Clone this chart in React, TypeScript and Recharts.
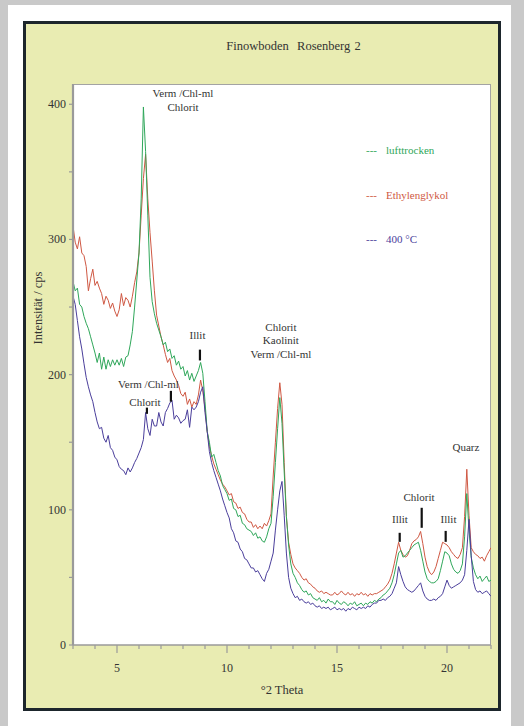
import React from 'react';
import { LineChart, Line, XAxis, YAxis, Legend, ReferenceLine, ReferenceDot } from 'recharts';

// °2 Theta positions
const theta = [
  3.0, 3.1, 3.2, 3.3, 3.4, 3.5, 3.6, 3.7, 3.8, 3.9,
  4.0, 4.1, 4.2, 4.3, 4.4, 4.5, 4.6, 4.7, 4.8, 4.9,
  5.0, 5.1, 5.2, 5.3, 5.4, 5.5, 5.6, 5.7, 5.8, 5.9,
  6.0, 6.1, 6.2, 6.3, 6.4, 6.5, 6.6, 6.7, 6.8, 6.9,
  7.0, 7.1, 7.2, 7.3, 7.4, 7.5, 7.6, 7.7, 7.8, 7.9,
  8.0, 8.1, 8.2, 8.3, 8.4, 8.5, 8.6, 8.7, 8.8, 8.9,
  9.0, 9.1, 9.2, 9.3, 9.4, 9.5, 9.6, 9.7, 9.8, 9.9,
  10.0, 10.1, 10.2, 10.3, 10.4, 10.5, 10.6, 10.7, 10.8, 10.9,
  11.0, 11.1, 11.2, 11.3, 11.4, 11.5, 11.6, 11.7, 11.8, 11.9,
  12.0, 12.1, 12.2, 12.3, 12.4, 12.5, 12.6, 12.7, 12.8, 12.9,
  13.0, 13.1, 13.2, 13.3, 13.4, 13.5, 13.6, 13.7, 13.8, 13.9,
  14.0, 14.1, 14.2, 14.3, 14.4, 14.5, 14.6, 14.7, 14.8, 14.9,
  15.0, 15.1, 15.2, 15.3, 15.4, 15.5, 15.6, 15.7, 15.8, 15.9,
  16.0, 16.1, 16.2, 16.3, 16.4, 16.5, 16.6, 16.7, 16.8, 16.9,
  17.0, 17.1, 17.2, 17.3, 17.4, 17.5, 17.6, 17.7, 17.8, 17.9,
  18.0, 18.1, 18.2, 18.3, 18.4, 18.5, 18.6, 18.7, 18.8, 18.9,
  19.0, 19.1, 19.2, 19.3, 19.4, 19.5, 19.6, 19.7, 19.8, 19.9,
  20.0, 20.1, 20.2, 20.3, 20.4, 20.5, 20.6, 20.7, 20.8, 20.9,
  21.0, 21.1, 21.2, 21.3, 21.4, 21.5, 21.6, 21.7, 21.8, 21.9,
  22.0,
];

// Intensität / cps
const lufttrocken = [
  269, 262, 264, 252, 250, 243, 238, 234, 228, 222,
  216, 209, 216, 204, 213, 204, 211, 206, 211, 207,
  211, 207, 212, 206, 213, 214, 222, 232, 250, 270,
  290, 330, 398, 365, 318, 272, 254, 245, 238, 233,
  228, 222, 224, 217, 219, 212, 214, 207, 210, 204,
  206, 199, 203, 196, 201, 195, 199, 203, 209, 201,
  180, 158, 150, 139, 141, 135, 129, 125, 118, 115,
  112, 107, 108, 101, 100, 95, 96, 90, 89, 86,
  85, 84, 81, 83, 79, 80, 77, 76, 80, 86,
  90, 110, 135, 160, 183, 164, 128, 95, 74, 60,
  53, 50, 46, 44, 41, 39, 40, 37, 38, 35,
  34, 33, 35, 32, 33, 31, 34, 32, 32, 30,
  33, 31, 30, 32, 31, 29, 31, 30, 32, 29,
  30, 31, 29, 31, 30, 32, 31, 33, 32, 34,
  35, 37, 38, 40, 42, 46, 52, 60, 68, 70,
  65, 66, 68, 70, 72, 74, 75, 76, 70, 62,
  54, 49, 47, 46, 46, 47, 49, 55, 62, 69,
  68, 66, 60, 56, 54, 53, 55, 60, 80, 112,
  85, 65, 57, 52, 49, 51, 47, 49, 51, 47,
  48,
];

const ethylenglykol = [
  310, 298, 293, 302, 290, 288, 280, 262, 271, 278,
  266, 269, 264, 260, 252, 258, 255, 249, 253, 247,
  243, 248, 260, 251, 257, 255, 250, 258, 268, 276,
  290, 318, 345, 363, 330, 305, 284, 262, 244, 236,
  228, 222, 215, 209, 212, 203, 199, 196, 192, 186,
  184, 187, 178, 182, 176, 180, 178, 185, 196, 188,
  175, 158, 147, 140, 134, 130, 126, 122, 119, 117,
  114, 111, 112, 106, 105, 101, 102, 98, 97, 93,
  91, 91, 87, 89, 86, 88, 86, 90, 88, 92,
  97, 125, 150, 175, 194, 178, 135, 95, 76, 67,
  60, 57, 55, 53, 50, 48, 49, 46, 45, 43,
  42, 40, 39, 40, 38, 39, 38, 37, 37, 39,
  37, 38, 40, 38, 37, 39, 37, 38, 36, 38,
  37, 39, 37, 38, 36, 38, 37, 38, 38, 39,
  40, 41, 43, 45, 48, 53, 60, 68, 76, 70,
  67, 65, 66, 70, 75, 77, 78, 80, 84, 75,
  65, 58, 54, 52, 54, 58, 64, 70, 76, 75,
  74, 72, 69, 67, 65, 64, 67, 72, 95, 130,
  96, 72, 69, 67, 66, 64, 65, 62, 66, 69,
  72,
];

const grad400 = [
  258, 252, 240, 228, 219, 208, 198, 191, 185, 180,
  172, 165, 160, 161, 153, 150, 155, 146, 144, 139,
  137, 132, 130, 129, 126, 131, 128, 131, 135, 138,
  142, 146, 152, 172, 160, 155, 167, 162, 162, 172,
  165, 162, 172, 175, 179, 181, 167, 170, 168, 164,
  166, 167, 174, 161, 176, 174, 176, 180, 187, 191,
  172, 158, 143, 135, 129, 124, 119, 114, 108, 103,
  98, 94, 86, 83, 77, 76, 71, 69, 64, 63,
  60, 57, 57, 54, 55, 52, 49, 47, 53, 56,
  62, 68, 85, 100, 114, 121, 96, 68, 50, 42,
  38, 35, 36, 33, 34, 32, 31, 32, 30, 31,
  29, 28, 29, 27, 28, 27, 28, 26, 27, 28,
  26, 27, 26, 27, 25, 27, 26, 28, 27, 26,
  28, 27, 28, 27, 29, 28, 30, 31, 31, 33,
  33, 34, 33, 35, 36, 38, 42, 46, 58, 52,
  47, 43, 41, 40, 39, 40, 42, 44, 46, 40,
  36, 34, 33, 33, 34, 33, 35, 36, 38, 43,
  48, 44, 42, 43, 44, 45, 46, 48, 52, 70,
  93, 66, 47, 41, 39, 40, 38, 39, 40, 38,
  36,
];

const xTicks = [3, 4, 5, 6, 7, 8, 9, 10, 11, 12, 13, 14, 15, 16, 17, 18, 19, 20, 21, 22];
const yTicks = [0, 50, 100, 150, 200, 250, 300, 350, 400];
const legendOrder = ['lufttrocken', 'Ethylenglykol', '400 °C'];

// peak annotations: text lines, anchored at first line centre (theta, value)
const peakLabels = [
  { lines: ['Verm /Chl-ml', 'Chlorit'], theta: 8.0, value: 408 },
  { lines: ['Illit'], theta: 8.66, value: 229.5 },
  { lines: ['Chlorit', 'Kaolinit', 'Verm /Chl-ml'], theta: 12.45, value: 235 },
  { lines: ['Verm /Chl-ml'], theta: 6.43, value: 192.6 },
  { lines: ['Chlorit'], theta: 6.27, value: 180 },
  { lines: ['Quarz'], theta: 20.86, value: 146.7 },
  { lines: ['Chlorit'], theta: 18.73, value: 109.6 },
  { lines: ['Illit'], theta: 17.86, value: 93.3 },
  { lines: ['Illit'], theta: 20.07, value: 93.3 },
];

const peakMarks = [
  { theta: 8.77, from: 210.5, to: 218.5 },
  { theta: 6.36, from: 171, to: 175.6 },
  { theta: 7.45, from: 180, to: 188 },
  { theta: 18.85, from: 86.7, to: 101.5 },
  { theta: 17.85, from: 76.3, to: 83 },
  { theta: 19.94, from: 76.3, to: 84.4 },
];

const data = theta.map((t, i) => ({
  theta: t,
  lufttrocken: lufttrocken[i],
  ethylenglykol: ethylenglykol[i],
  grad400: grad400[i],
}));

const SERIF = '"Liberation Serif", "Times New Roman", "DejaVu Serif", serif';
const TEXT = '#333333';
const AXIS = '#9a9a9a';
const GREEN = '#2fa75a';
const RED = '#cf5843';
const BLUE = '#4a3e9b';

const X_TICK_SIZE = 6;
const X_TICK_MARGIN = 2;
const Y_TICK_SIZE = 4;
const Y_TICK_MARGIN = 4;

function XTick(props: any) {
  const { x, y, payload } = props;
  const axisY = y - X_TICK_SIZE - X_TICK_MARGIN;
  const major = payload.value % 5 === 0;
  return (
    <g>
      <line x1={x} x2={x} y1={axisY} y2={axisY + (major ? 8 : 4)} stroke={AXIS} strokeWidth={1.2} />
      {major && (
        <text x={x} y={axisY + 27} textAnchor="middle" fontFamily={SERIF} fontSize={12} fill={TEXT}>
          {payload.value}
        </text>
      )}
    </g>
  );
}

function YTick(props: any) {
  const { x, y, payload } = props;
  const axisX = x + Y_TICK_SIZE + Y_TICK_MARGIN;
  const major = payload.value % 100 === 0;
  return (
    <g>
      <line x1={axisX - 4} x2={axisX} y1={y} y2={y} stroke={AXIS} strokeWidth={1.2} />
      {major && (
        <text x={axisX - 7} y={y} dy={4} textAnchor="end" fontFamily={SERIF} fontSize={12} fill={TEXT}>
          {payload.value}
        </text>
      )}
    </g>
  );
}

function LegendBox(props: any) {
  const payload = [...(props.payload || [])].sort(
    (a: any, b: any) => legendOrder.indexOf(a.value) - legendOrder.indexOf(b.value)
  );
  return (
    <div style={{ fontFamily: SERIF, fontSize: 11 }}>
      {payload.map((p: any) => (
        <div key={p.value} style={{ height: 44.7, lineHeight: '14px', color: p.color, whiteSpace: 'nowrap' }}>
          <span style={{ marginRight: 9 }}>---</span>
          {p.value}
        </div>
      ))}
    </div>
  );
}

function makeLabelShape(lines: string[]) {
  return (props: any) => {
    const { cx, cy } = props;
    return (
      <g>
        {lines.map((l, i) => (
          <text
            key={i}
            x={cx}
            y={cy + i * 13.3}
            dy="0.35em"
            textAnchor="middle"
            fontFamily={SERIF}
            fontSize={11}
            fill={TEXT}
          >
            {l}
          </text>
        ))}
      </g>
    );
  };
}

export default function App() {
  return (
    <div style={{ position: 'fixed', left: 0, top: 0, width: 524, height: 726, background: '#c9c9c9', overflow: 'hidden' }}>
      <div style={{ position: 'absolute', left: 8, top: 5, width: 503, height: 721, background: '#ffffff' }} />
      <div
        style={{
          position: 'absolute', left: 23, top: 21, width: 478, height: 690, boxSizing: 'border-box',
          border: '3px solid #1d262c', background: '#e9ecb2',
        }}
      />
      <div
        style={{
          position: 'absolute', left: 73, top: 84, width: 418, height: 561, boxSizing: 'border-box',
          background: '#ffffff', borderTop: '1px solid #a3a3a3', borderRight: '1.5px solid #a3a3a3',
        }}
      />
      <div
        style={{
          position: 'absolute', left: 143.5, top: 38.5, width: 300, textAlign: 'center', whiteSpace: 'pre',
          fontFamily: SERIF, fontSize: 12.5, lineHeight: '15px', color: TEXT, wordSpacing: 1,
        }}
      >
        {'Finowboden  Rosenberg 2'}
      </div>
      <div
        style={{
          position: 'absolute', left: 31, top: 307.5, width: 0, height: 0,
        }}
      >
        <div
          style={{
            position: 'absolute', left: 0, top: 0, transform: 'translate(-50%, -50%) rotate(-90deg)',
            whiteSpace: 'nowrap', fontFamily: SERIF, fontSize: 12.5, lineHeight: '15px', color: TEXT,
            marginLeft: 7,
          }}
        >
          Intensität / cps
        </div>
      </div>
      <div style={{ position: 'absolute', left: 0, top: 0 }}>
        <LineChart width={524} height={726} data={data} margin={{ top: 84, right: 33, bottom: 51, left: 23 }}>
          <XAxis
            type="number"
            dataKey="theta"
            domain={[3, 22]}
            ticks={xTicks}
            interval={0}
            allowDataOverflow
            height={30}
            tickSize={X_TICK_SIZE}
            tickMargin={X_TICK_MARGIN}
            tickLine={false}
            tick={(p: any) => <XTick {...p} />}
            axisLine={{ stroke: AXIS, strokeWidth: 1.5 }}
            label={{ value: '°2 Theta', position: 'bottom', offset: 10, fill: TEXT, fontFamily: SERIF, fontSize: 12.5 }}
          />
          <YAxis
            type="number"
            domain={[0, 415]}
            ticks={yTicks}
            interval={0}
            allowDataOverflow
            width={50}
            tickSize={Y_TICK_SIZE}
            tickMargin={Y_TICK_MARGIN}
            tickLine={false}
            tick={(p: any) => <YTick {...p} />}
            axisLine={{ stroke: AXIS, strokeWidth: 2.2 }}
          />
          <Legend
            layout="vertical"
            align="center"
            verticalAlign="middle"
            wrapperStyle={{ left: 366, top: 143, width: 130 }}
            content={(p: any) => <LegendBox {...p} />}
          />
          <Line name="Ethylenglykol" dataKey="ethylenglykol" type="linear" stroke={RED} strokeWidth={1} dot={false} isAnimationActive={false} />
          <Line name="lufttrocken" dataKey="lufttrocken" type="linear" stroke={GREEN} strokeWidth={1} dot={false} isAnimationActive={false} />
          <Line name="400 °C" dataKey="grad400" type="linear" stroke={BLUE} strokeWidth={1} dot={false} isAnimationActive={false} />
          {peakMarks.map((m, i) => (
            <ReferenceLine
              key={'m' + i}
              segment={[{ x: m.theta, y: m.from }, { x: m.theta, y: m.to }]}
              stroke="#111111"
              strokeWidth={2.2}
              ifOverflow="visible"
            />
          ))}
          {peakLabels.map((l, i) => (
            <ReferenceDot
              key={'l' + i}
              x={l.theta}
              y={l.value}
              r={1}
              ifOverflow="visible"
              shape={makeLabelShape(l.lines)}
            />
          ))}
        </LineChart>
      </div>
    </div>
  );
}
